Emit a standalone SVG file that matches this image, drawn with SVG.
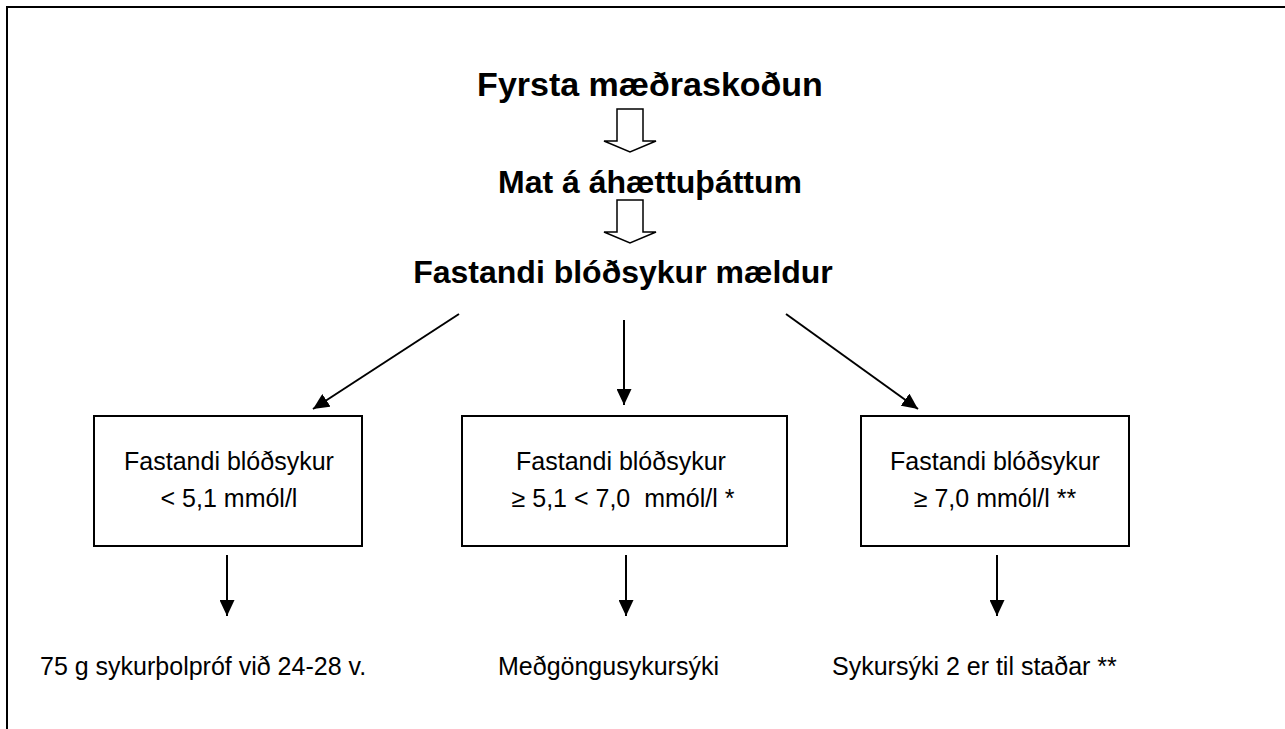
<svg xmlns="http://www.w3.org/2000/svg" width="1285" height="729" viewBox="0 0 1285 729">
<defs>
<marker id="ah" markerWidth="16" markerHeight="15" refX="16" refY="7.5" orient="auto" markerUnits="userSpaceOnUse" viewBox="0 0 16 15">
<path d="M0,0 L16,7.5 L0,15 z" fill="#000"/>
</marker>
</defs>
<style>
.t{font-family:"Liberation Sans",Arial,sans-serif;fill:#000}
.h{font-weight:bold;font-size:32px}
.h1{font-size:34px}
.n{font-size:25px}
.box{fill:#fff;stroke:#000;stroke-width:2}
.ln{stroke:#000;stroke-width:2;fill:none}
.hol{fill:#fff;stroke:#000;stroke-width:1.5}
</style>
<rect width="1285" height="729" fill="#fff"/>
<path d="M7,729 V7 H1285" fill="none" stroke="#000" stroke-width="2"/>
<g id="n1"><text class="t h h1" x="650" y="96" text-anchor="middle">Fyrsta mæðraskoðun</text></g>
<g id="n2"><text class="t h" x="650" y="193" text-anchor="middle">Mat á áhættuþáttum</text></g>
<g id="n3"><text class="t h" x="623" y="283" text-anchor="middle">Fastandi blóðsykur mældur</text></g>
<g id="b1"><rect class="box" x="94" y="416" width="268" height="130"/>
<text class="t n" x="229" y="470" text-anchor="middle">Fastandi blóðsykur</text>
<text class="t n" x="229" y="507" text-anchor="middle">&lt; 5,1 mmól/l</text></g>
<g id="b2"><rect class="box" x="462" y="416" width="325" height="130"/>
<text class="t n" x="621" y="470" text-anchor="middle">Fastandi blóðsykur</text>
<text class="t n" x="623" y="507" text-anchor="middle" xml:space="preserve">≥ 5,1 &lt; 7,0  mmól/l *</text></g>
<g id="b3"><rect class="box" x="861" y="416" width="268" height="130"/>
<text class="t n" x="995" y="470" text-anchor="middle">Fastandi blóðsykur</text>
<text class="t n" x="995" y="507" text-anchor="middle">≥ 7,0 mmól/l **</text></g>
<g id="r1"><text class="t n" x="40" y="675">75 g sykurþolpróf við 24-28 v.</text></g>
<g id="r2"><text class="t n" x="498" y="675">Meðgöngusykursýki</text></g>
<g id="r3"><text class="t n" x="832" y="675">Sykursýki 2 er til staðar **</text></g>
<g id="connectors">
<path class="hol" d="M617,109 H643 V141 H656 L630,152 L604,141 H617 Z"/>
<path class="hol" d="M617,200 H643 V232 H656 L630,243 L604,232 H617 Z"/>
<line class="ln" x1="459" y1="314" x2="313" y2="409" marker-end="url(#ah)"/>
<line class="ln" x1="624" y1="320" x2="624" y2="405" marker-end="url(#ah)"/>
<line class="ln" x1="786" y1="314" x2="918" y2="409" marker-end="url(#ah)"/>
<line class="ln" x1="227" y1="555" x2="227" y2="616" marker-end="url(#ah)"/>
<line class="ln" x1="626" y1="555" x2="626" y2="616" marker-end="url(#ah)"/>
<line class="ln" x1="997" y1="555" x2="997" y2="616" marker-end="url(#ah)"/>
</g>
</svg>
